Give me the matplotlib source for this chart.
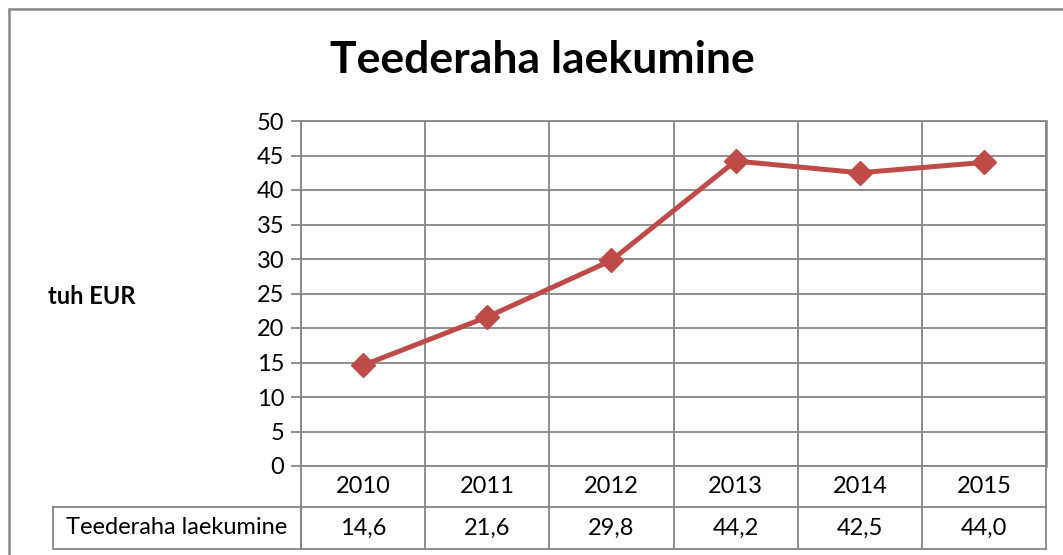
import matplotlib
matplotlib.use("Agg")
import matplotlib.pyplot as plt
from matplotlib.patches import Rectangle

years = ["2010", "2011", "2012", "2013", "2014", "2015"]
values = [14.6, 21.6, 29.8, 44.2, 42.5, 44.0]
series_name = "Teederaha laekumine"
title = "Teederaha laekumine"
ylabel = "tuh EUR"

plt.rcParams["font.family"] = ["Lato", "DejaVu Sans"]
grid_col = "#868686"
line_col = "#BE4B48"
fs = 17

W, H = 1063, 555
fig = plt.figure(figsize=(W / 100, H / 100), dpi=100)

def fx(px):
    return px / W

def fy(py):
    return 1 - py / H

# outer chart border (cropped at right/bottom)
fig.patches.append(Rectangle((fx(9), fy(600)), fx(1100), fy(9) - fy(600),
                             transform=fig.transFigure, fill=False,
                             edgecolor=grid_col, linewidth=1.8))

left, right, top, bottom = 301, 1046, 121, 466
ax = fig.add_axes([fx(left), fy(bottom), fx(right - left), fy(top) - fy(bottom)])

x = list(range(len(years)))
ax.plot(x, values, color=line_col, linewidth=3.6, marker="D", markersize=12,
        zorder=5, clip_on=False)

ax.set_xlim(-0.5, len(years) - 0.5)
ax.set_ylim(0, 50)
ax.set_yticks(range(0, 51, 5))
ax.set_xticks([])
for s in ax.spines.values():
    s.set_color(grid_col)
    s.set_linewidth(1.3)
ax.spines["right"].set_linewidth(1.8)
ax.grid(axis="y", color=grid_col, linewidth=1.3)
for k in range(len(years) + 1):
    ax.axvline(k - 0.5, color=grid_col, linewidth=1.3, zorder=1)
ax.tick_params(axis="y", length=7, width=1.3, color=grid_col, labelsize=fs,
               pad=5)

fig.text(fx(542), fy(60), title, fontsize=32, fontweight="bold",
         ha="center", va="center")
fig.text(fx(48), fy(296), ylabel, fontsize=fs, fontweight="bold", va="center")

# data table below the plot
ph = bottom - top
r1 = -(507 - bottom) / ph
r2 = -(549 - bottom) / ph
tr = ax.get_xaxis_transform()
for k in range(len(years) + 1):
    ax.plot([k - 0.5, k - 0.5], [0, r2], color=grid_col, linewidth=1.3,
            clip_on=False, transform=tr)
ax.plot([-0.5, len(years) - 0.5], [r1, r1], color=grid_col, linewidth=1.3,
        clip_on=False, transform=tr)
ax.plot([-0.5, len(years) - 0.5], [r2, r2], color=grid_col, linewidth=1.3,
        clip_on=False, transform=tr)
for i, (yr, v) in enumerate(zip(years, values)):
    ax.text(i, r1 / 2, yr, ha="center", va="center", fontsize=fs, transform=tr)
    ax.text(i, (r1 + r2) / 2, f"{v:.1f}".replace(".", ","), ha="center",
            va="center", fontsize=fs, transform=tr)

# series name cell
fig.lines.append(plt.Line2D([fx(53), fx(left), fx(left), fx(53), fx(53)],
                            [fy(507), fy(507), fy(549), fy(549), fy(507)],
                            transform=fig.transFigure, color=grid_col,
                            linewidth=1.3))
fig.text(fx(177), fy(528), series_name, ha="center", va="center", fontsize=fs)

fig.savefig("out.png", dpi=100)
